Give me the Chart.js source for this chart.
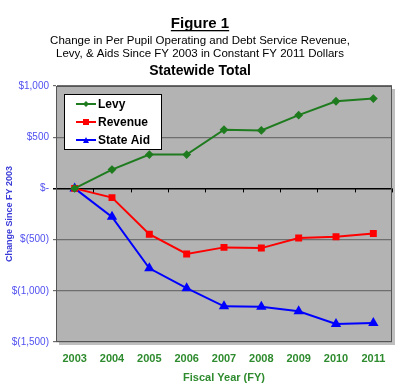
<!DOCTYPE html>
<html>
<head>
<meta charset="utf-8">
<script src="https://cdn.jsdelivr.net/npm/chart.js@4"></script>
<style>
  html, body { margin: 0; padding: 0; background: #fff; }
  #wrap { width: 400px; height: 389px; position: relative; }
</style>
</head>
<body>
<div id="wrap"><canvas id="chart" width="400" height="389"></canvas></div>
<script>
// data (change since FY 2003, constant FY 2011 dollars)
const years = ['2003', '2004', '2005', '2006', '2007', '2008', '2009', '2010', '2011'];
const levy = [0, 184, 330, 330, 573, 566, 715, 851, 877];
const revenue = [0, -90, -447, -640, -576, -583, -485, -473, -440];
const stateAid = [0, -278, -780, -974, -1152, -1155, -1200, -1323, -1314];
const yTicks = [1000, 500, 0, -500, -1000, -1500];

const FONT = '"Liberation Sans", Arial, sans-serif';

// $1,000 / $(500) / $- style like the excel original
const fmtDollar = (v) => {
  if (v === 0) return '$-';
  const s = Math.abs(v).toLocaleString('en-US');
  return v < 0 ? `$(${s})` : `$${s}`;
};

// titles drawn on top of the canvas
const titlePlugin = {
  id: 'titles',
  afterDraw(chart) {
    const ctx = chart.ctx;
    ctx.save();
    ctx.fillStyle = '#000';
    ctx.textAlign = 'center';
    ctx.textBaseline = 'alphabetic';
    ctx.font = `bold 15px ${FONT}`;
    ctx.fillText('Figure 1', 200, 28);
    const w = ctx.measureText('Figure 1').width;
    ctx.fillRect(200 - w / 2, 30, w, 1.3);
    ctx.font = `11.5px ${FONT}`;
    ctx.fillText('Change in Per Pupil Operating and Debt Service Revenue,', 200, 44);
    ctx.fillText('Levy, & Aids Since FY 2003 in Constant FY 2011 Dollars', 200, 57);
    ctx.font = `bold 14px ${FONT}`;
    ctx.fillText('Statewide Total', 200, 75);
    ctx.restore();
  }
};

// grey plot area, shadow, zero-line ticks and the boxed legend
const plotPlugin = {
  id: 'plotArea',
  beforeDraw(chart) {
    const { ctx, chartArea: a } = chart;
    ctx.save();
    ctx.fillStyle = 'rgba(0,0,0,0.25)';
    ctx.fillRect(a.left + 3, a.top + 3, a.right - a.left, a.bottom - a.top);
    ctx.fillStyle = '#b3b3b3';
    ctx.fillRect(a.left, a.top, a.right - a.left, a.bottom - a.top);
    ctx.restore();
  },
  afterDatasetsDraw(chart) {
    const { ctx, chartArea: a, scales } = chart;
    const y0 = scales.y.getPixelForValue(0);
    ctx.save();
    ctx.strokeStyle = '#000';
    ctx.lineWidth = 1;
    ctx.beginPath();
    for (let i = 0; i <= years.length; i++) {
      const x = Math.round(a.left + (a.right - a.left) * i / years.length) + 0.5;
      ctx.moveTo(x, y0);
      ctx.lineTo(x, y0 + 4);
    }
    ctx.stroke();
    ctx.strokeStyle = '#555';
    ctx.strokeRect(a.left + 0.5, a.top + 0.5, a.right - a.left - 1, a.bottom - a.top - 1);
    ctx.restore();
  },
  afterDraw(chart) {
    const { ctx, chartArea: a } = chart;
    const bx = a.left + 8, by = a.top + 8, bw = 97, bh = 55;
    ctx.save();
    ctx.fillStyle = '#fff';
    ctx.fillRect(bx, by, bw, bh);
    ctx.strokeStyle = '#000';
    ctx.lineWidth = 1;
    ctx.strokeRect(bx + 0.5, by + 0.5, bw, bh);
    chart.data.datasets.forEach((ds, i) => {
      const cy = by + 10 + i * 18;
      ctx.strokeStyle = ds.borderColor;
      ctx.lineWidth = 2;
      ctx.beginPath();
      ctx.moveTo(bx + 12, cy);
      ctx.lineTo(bx + 32, cy);
      ctx.stroke();
      ctx.fillStyle = ds.borderColor;
      const s = 3;
      ctx.beginPath();
      if (ds.pointStyle === 'rectRot') {
        ctx.moveTo(bx + 22, cy - s); ctx.lineTo(bx + 22 + s, cy);
        ctx.lineTo(bx + 22, cy + s); ctx.lineTo(bx + 22 - s, cy);
      } else if (ds.pointStyle === 'rect') {
        ctx.rect(bx + 22 - s, cy - s, 2 * s, 2 * s);
      } else {
        ctx.moveTo(bx + 22, cy - s); ctx.lineTo(bx + 22 + s, cy + s);
        ctx.lineTo(bx + 22 - s, cy + s);
      }
      ctx.fill();
      ctx.fillStyle = '#000';
      ctx.font = `bold 12px ${FONT}`;
      ctx.textAlign = 'left';
      ctx.textBaseline = 'middle';
      ctx.fillText(ds.label, bx + 34, cy + 1);
    });
    ctx.restore();
  }
};

new Chart(document.getElementById('chart'), {
  type: 'line',
  data: {
    labels: years,
    datasets: [
      { label: 'Levy', data: levy, borderColor: '#1e7b1e', backgroundColor: '#1e7b1e',
        pointStyle: 'rectRot', pointRadius: 3, borderWidth: 2 },
      { label: 'Revenue', data: revenue, borderColor: '#ff0000', backgroundColor: '#ff0000',
        pointStyle: 'rect', pointRadius: 3.5, borderWidth: 2 },
      { label: 'State Aid', data: stateAid, borderColor: '#0000ff', backgroundColor: '#0000ff',
        pointStyle: 'triangle', pointRadius: 4, borderWidth: 2 }
    ]
  },
  options: {
    responsive: false,
    animation: false,
    layout: { padding: { top: 86, right: 8, bottom: 0, left: 0 } },
    plugins: { legend: { display: false }, tooltip: { enabled: false } },
    scales: {
      x: {
        offset: true,
        grid: { display: false },
        border: { display: false },
        ticks: { color: '#2e8b2e', font: { family: FONT, size: 11, weight: 'bold' }, padding: 2 },
        title: { display: true, text: 'Fiscal Year (FY)', color: '#2e8b2e',
          font: { family: FONT, size: 11, weight: 'bold' }, padding: { top: 4 } },
        afterFit: (s) => { s.height = 47; }
      },
      y: {
        min: -1500, max: 1000,
        afterBuildTicks: (s) => { s.ticks = yTicks.map(v => ({ value: v })); },
        grid: {
          color: (c) => c.tick && c.tick.value === 0 ? '#000' : '#6e6e6e',
          lineWidth: (c) => c.tick && c.tick.value === 0 ? 1.5 : 1.2,
          drawTicks: true, tickLength: 3
        },
        border: { color: '#333' },
        ticks: { color: '#5050f0', font: { family: FONT, size: 10 }, padding: 4,
          callback: (v) => fmtDollar(v) },
        title: { display: true, text: 'Change Since FY 2003', color: '#3a3ad8',
          font: { family: FONT, size: 9, weight: 'bold' }, padding: { bottom: 4 } },
        afterFit: (s) => { s.width = 56; }
      }
    }
  },
  plugins: [titlePlugin, plotPlugin]
});
</script>
</body>
</html>
